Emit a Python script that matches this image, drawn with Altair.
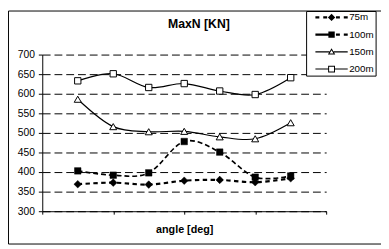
import altair as alt
import pandas as pd

series = ["75m", "100m", "150m", "200m"]
positions = [1, 2, 3, 4, 5, 6, 7]
s75 = [369, 373, 368, 378, 380, 374, 384]
s100 = [403, 392, 398, 478, 451, 387, 390]
s150 = [586, 516, 503, 504, 490, 485, 526]
s200 = [633, 651, 616, 626, 607, 598, 641]
y_ticks = [300, 350, 400, 450, 500, 550, 600, 650, 700]
x_ticks = [0, 2, 4, 6, 8]
chart_title = ["MaxN [KN]"]

values = {"75m": s75, "100m": s100, "150m": s150, "200m": s200}
rows = []
for s in series:
    for p, v in zip(positions, values[s]):
        rows.append({"series": s, "pos": p, "value": v})
df = pd.DataFrame(rows)

FONT = "Liberation Sans"

x_enc = alt.X(
    "pos:Q",
    scale=alt.Scale(domain=[0, 8], nice=False, zero=False),
    axis=alt.Axis(
        values=x_ticks, labels=False, grid=False, tickSize=3,
        domainColor="black", tickColor="black",
        title="angle [deg]", titleFont=FONT, titleFontSize=11,
        titleFontWeight="bold", titleColor="black", titlePadding=9,
    ),
)
y_enc = alt.Y(
    "value:Q",
    scale=alt.Scale(domain=[300, 700], nice=False, zero=False),
    axis=alt.Axis(
        values=y_ticks, tickSize=4, labelPadding=4, labelFont=FONT,
        labelFontSize=10.5, labelColor="black", grid=True,
        gridDash=[8, 4], gridColor="black", gridWidth=1,
        domainColor="black", tickColor="black", title=None,
    ),
)

line_style = {
    "75m": dict(strokeWidth=2.2, strokeDash=[4.5, 3.5]),
    "100m": dict(strokeWidth=1.7, strokeDash=[5, 3]),
    "150m": dict(strokeWidth=1.2),
    "200m": dict(strokeWidth=1.2),
}
point_style = {
    "75m": dict(shape="diamond", size=60, fill="black", strokeWidth=0.5),
    "100m": dict(shape="square", size=44, fill="black", strokeWidth=0.5),
    "150m": dict(shape="triangle-up", size=52, fill="white", strokeWidth=1),
    "200m": dict(shape="square", size=42, fill="white", strokeWidth=1),
}

base = alt.Chart(df)
layers = []
for s in series:
    layers.append(
        base.transform_filter(alt.datum.series == s)
        .mark_line(interpolate="cardinal", color="black", **line_style[s])
        .encode(x=x_enc, y=y_enc)
    )
for s in series:
    layers.append(
        base.transform_filter(alt.datum.series == s)
        .mark_point(filled=True, stroke="black", opacity=1, **point_style[s])
        .encode(x=x_enc, y=y_enc)
    )

# legend glyphs (line + marker) drawn as filled custom paths; holes by reverse winding
p75 = ("M-5.8,-0.22H-5V0.22H-5.8Z M-4.2,-0.22H-3.4V0.22H-4.2Z "
       "M-1.6,-0.22H-0.8V0.22H-1.6Z M0,-0.22H0.8V0.22H0Z "
       "M-3.25,0L-2.5,-0.75L-1.75,0L-2.5,0.75Z")
p100 = ("M-5.8,-0.22H-3.1V0.22H-5.8Z M-3.15,-0.65H-1.85V0.65H-3.15Z "
        "M-1.6,-0.22H-0.8V0.22H-1.6Z M0,-0.22H0.8V0.22H0Z")
p150 = ("M-5.8,-0.11H-2.93V0.11H-5.8Z M-2.07,-0.11H0.8V0.11H-2.07Z "
        "M-2.5,-0.75L-1.75,0.55L-3.25,0.55Z "
        "M-2.5,-0.35L-2.9,0.35L-2.1,0.35Z")
p200 = ("M-5.8,-0.11H-3.2V0.11H-5.8Z M-1.8,-0.11H0.8V0.11H-1.8Z "
        "M-3.2,-0.7H-1.8V0.7H-3.2Z "
        "M-3.0,-0.5V0.5H-2.0V-0.5Z")

leg = alt.Legend(
    orient="none", legendX=269.5, legendY=-44.5, title=None,
    symbolSize=100, symbolFillColor="black", symbolStrokeWidth=0,
    symbolOpacity=1, strokeColor="black", fillColor="white", padding=1.5,
    rowPadding=7.6, symbolOffset=32, labelOffset=0.5, labelFont=FONT,
    labelFontSize=10, labelColor="black",
)
legend_layer = base.mark_point(filled=True, color="black", opacity=0, strokeWidth=0).encode(
    x=x_enc, y=y_enc,
    shape=alt.Shape("series:N", scale=alt.Scale(domain=series, range=[p75, p100, p150, p200]), legend=leg),
)
layers.append(legend_layer)

title_layer = alt.Chart(alt.Data(values=[{"t": t} for t in chart_title])).mark_text(
    font=FONT, fontSize=12.5, fontWeight="bold", color="black",
    align="center", baseline="alphabetic",
).encode(text="t:N", x=alt.value(160), y=alt.value(-27))
layers.append(title_layer)

border = alt.Chart(alt.Data(values=[{"a": 1}])).mark_rect(
    fill="transparent", stroke="black", strokeWidth=1
).encode(x=alt.value(-34.5), x2=alt.value(400), y=alt.value(-44.5), y2=alt.value(193.5))
layers.append(border)

chart = alt.layer(*layers).properties(
    width=290, height=160,
    autosize=alt.AutoSizeParams(type="none"),
    padding={"left": 35, "top": 45, "right": 56, "bottom": 36},
).configure_view(strokeWidth=0)

chart.save("out.html", embed_options={"renderer": "svg", "actions": False})
